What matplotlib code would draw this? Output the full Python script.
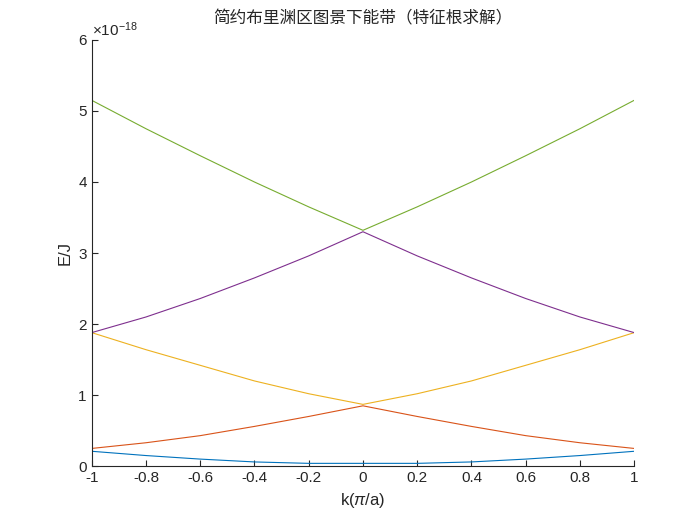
import numpy as np
import matplotlib
matplotlib.use('Agg')
import matplotlib.pyplot as plt

plt.rcParams['font.family'] = ['Liberation Sans', 'Noto Sans CJK SC', 'DejaVu Sans']
plt.rcParams['mathtext.fontset'] = 'custom'
plt.rcParams['mathtext.rm'] = 'Liberation Sans'
plt.rcParams['mathtext.it'] = 'Liberation Sans:italic'

# k in units of pi/a
k = [-1.0, -0.8, -0.6, -0.4, -0.2, 0.0, 0.2, 0.4, 0.6, 0.8, 1.0]
# energies in units of 1e-18 J
band1 = [0.21, 0.15, 0.10, 0.06, 0.04, 0.04, 0.04, 0.06, 0.10, 0.15, 0.21]
band2 = [0.25, 0.33, 0.43, 0.56, 0.70, 0.85, 0.70, 0.56, 0.43, 0.33, 0.25]
band3 = [1.88, 1.64, 1.42, 1.20, 1.02, 0.87, 1.02, 1.20, 1.42, 1.64, 1.88]
band4 = [1.88, 2.10, 2.36, 2.65, 2.96, 3.30, 2.96, 2.65, 2.36, 2.10, 1.88]
band5 = [5.15, 4.75, 4.37, 4.00, 3.65, 3.32, 3.65, 4.00, 4.37, 4.75, 5.15]
bands = [band1, band2, band3, band4, band5]
colors = ['#0072BD', '#D95319', '#EDB120', '#7E2F8E', '#77AC30']

fig = plt.figure(figsize=(7, 5.25), dpi=100)
ax = fig.add_axes([0.131, 0.112, 0.775, 0.812])
for b, c in zip(bands, colors):
    ax.plot(k, np.array(b) * 1e-18, color=c, lw=0.8)

ax.set_xlim(-1, 1)
ax.set_ylim(0, 6e-18)
ax.set_xticks(np.arange(-1, 1.01, 0.2))
ax.set_xticklabels(['-1', '-0.8', '-0.6', '-0.4', '-0.2', '0', '0.2', '0.4', '0.6', '0.8', '1'])
ax.set_yticks(np.arange(0, 7) * 1e-18)
ax.set_yticklabels([str(i) for i in range(7)])
ax.text(0, 1.003, r'$\times 10^{-18}$', transform=ax.transAxes, fontsize=11,
        color='#262626', va='bottom')
ax.spines['top'].set_visible(False)
ax.spines['right'].set_visible(False)
for s in ['left', 'bottom']:
    ax.spines[s].set_color('#262626')
ax.tick_params(direction='in', labelsize=11, colors='#262626', length=4)
ax.set_xlabel(r'k($\pi$/a)', fontsize=12, color='#262626')
ax.set_ylabel('E/J', fontsize=12, color='#262626')
ax.set_title('简约布里渊区图景下能带（特征根求解）', fontsize=12, color='#262626', pad=12,
             family=['Noto Sans CJK SC', 'DejaVu Sans'])

fig.savefig('out.png')
